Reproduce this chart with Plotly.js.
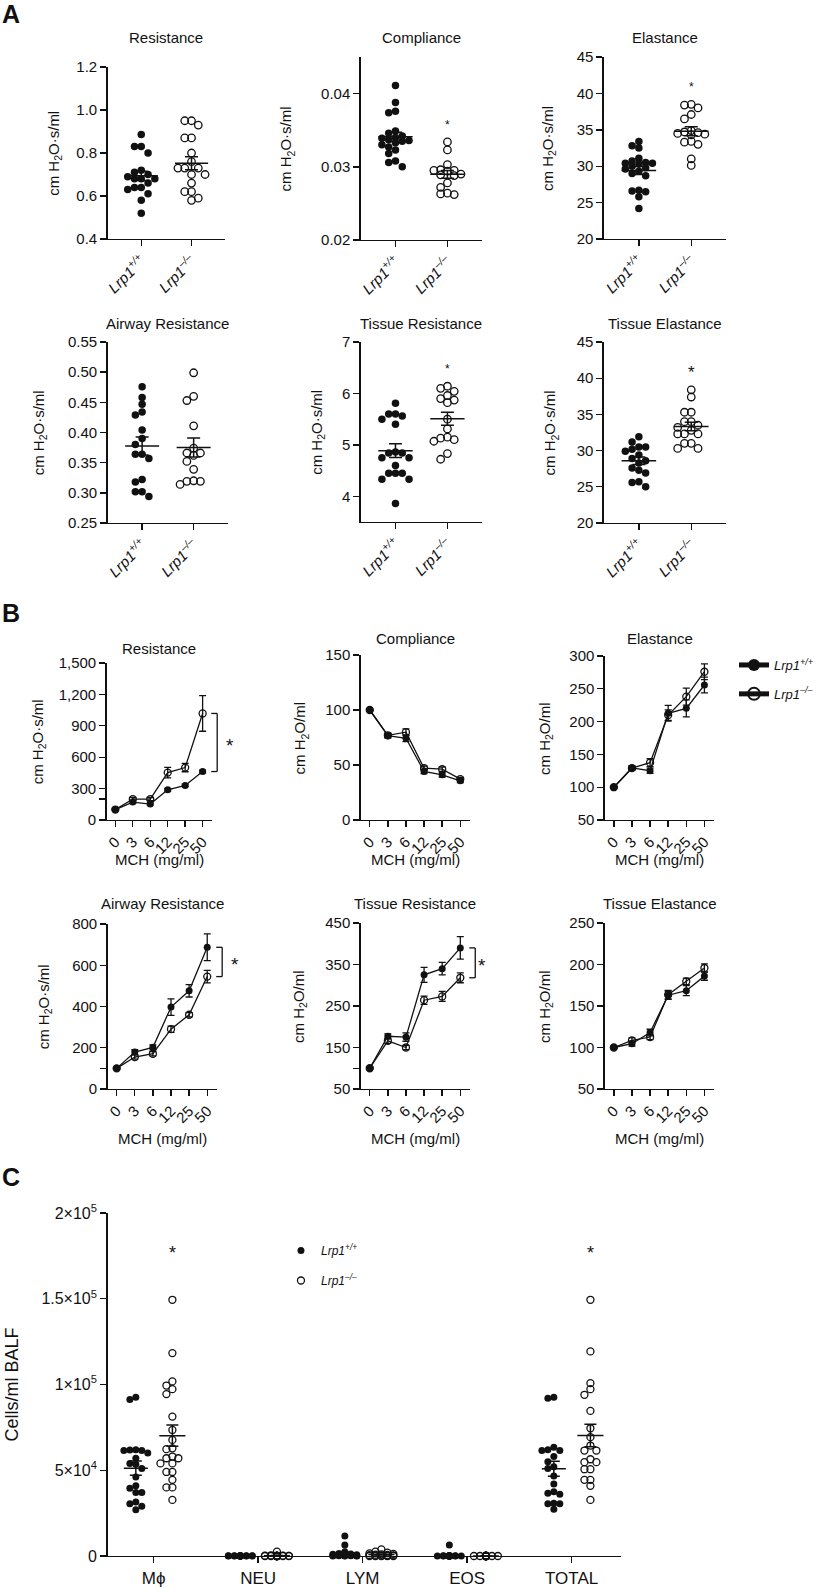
<!DOCTYPE html>
<html><head><meta charset="utf-8">
<script src="https://cdn.plot.ly/plotly-3.0.1.min.js"></script>
<style>html,body{margin:0;padding:0;background:#fff}</style>
</head><body><div id="chart" style="width:819px;height:1592px"></div>
<script>
// ================= DATA =================
const genotypes = ['<i>Lrp1<sup>+/+</sup></i>', '<i>Lrp1<sup>–/–</sup></i>'];

// Panel A (individual mice)
const A_resWT = [0.886, 0.83, 0.83, 0.80, 0.72, 0.71, 0.70, 0.69, 0.68, 0.68, 0.68, 0.66, 0.64, 0.64, 0.63, 0.61, 0.58, 0.52];
const A_resKO = [0.95, 0.95, 0.93, 0.87, 0.87, 0.80, 0.76, 0.73, 0.73, 0.73, 0.70, 0.70, 0.66, 0.62, 0.62, 0.59, 0.58];
const A_compWT = [0.0411, 0.0388, 0.0376, 0.0374, 0.0349, 0.0346, 0.0342, 0.0340, 0.0339, 0.0337, 0.0336, 0.0335, 0.0333, 0.0330, 0.0327, 0.0323, 0.0318, 0.0308, 0.0306, 0.0300];
const A_compKO = [0.0334, 0.0323, 0.0303, 0.0296, 0.0295, 0.0295, 0.0294, 0.0290, 0.0289, 0.0288, 0.0278, 0.0272, 0.0264, 0.0263, 0.0262];
const A_elaWT = [33.4, 32.8, 32.5, 31.1, 30.7, 30.5, 30.4, 30.4, 30.3, 30.0, 29.8, 29.6, 29.3, 29.0, 28.7, 26.7, 26.6, 26.5, 25.8, 24.2];
const A_elaKO = [38.5, 38.4, 38.0, 37.1, 36.5, 34.9, 34.7, 34.6, 34.5, 34.4, 34.3, 33.4, 33.3, 33.0, 31.0, 30.1];
const A_awrWT = [0.476, 0.458, 0.447, 0.434, 0.429, 0.404, 0.390, 0.380, 0.364, 0.364, 0.357, 0.322, 0.318, 0.302, 0.302, 0.294];
const A_awrKO = [0.499, 0.460, 0.453, 0.411, 0.374, 0.366, 0.366, 0.362, 0.352, 0.339, 0.320, 0.319, 0.319, 0.314];
const A_trWT = [5.81, 5.60, 5.60, 5.56, 5.50, 5.40, 4.86, 4.84, 4.84, 4.75, 4.75, 4.60, 4.45, 4.45, 4.45, 4.33, 4.33, 3.86];
const A_trKO = [6.14, 6.10, 6.04, 5.96, 5.90, 5.87, 5.82, 5.50, 5.31, 5.15, 5.13, 5.10, 5.07, 4.83, 4.72];
const A_teWT = [31.9, 31.2, 30.5, 30.5, 30.2, 29.9, 29.4, 28.9, 28.6, 28.3, 27.6, 27.3, 26.9, 25.7, 25.6, 25.0];
const A_teKO = [38.4, 37.4, 35.3, 35.3, 34.0, 34.0, 33.5, 33.2, 32.8, 32.3, 32.3, 32.3, 31.0, 31.0, 30.3, 30.3];

const A_resTicks = [0.4, 0.6, 0.8, 1.0, 1.2];
const A_compTicks = [0.02, 0.03, 0.04];
const A_elaTicks = [20, 25, 30, 35, 40, 45];
const A_awrTicks = [0.25, 0.30, 0.35, 0.40, 0.45, 0.50, 0.55];
const A_trTicks = [4, 5, 6, 7];
const A_teTicks = [20, 25, 30, 35, 40, 45];

// Panel B (MCH dose response, mean ± SEM)
const mchDoses = ['0', '3', '6', '12', '25', '50'];
const B_resWT = [100, 171, 152, 289, 330, 463],   B_resWTe = [4, 12, 10, 12, 12, 14];
const B_resKO = [100, 200, 200, 453, 501, 1018],  B_resKOe = [4, 15, 15, 50, 40, 170];
const B_compWT = [100, 76.7, 74.3, 44.1, 41.1, 35.6], B_compWTe = [0.5, 2, 3, 2, 2, 1.5];
const B_compKO = [100, 77.0, 79.8, 47.1, 46.2, 37.2], B_compKOe = [0.5, 2, 3, 2, 2, 1.5];
const B_elaWT = [100, 129.3, 125.2, 212.6, 220.2, 255.8], B_elaWTe = [1, 3, 4, 12, 13, 12];
const B_elaKO = [100, 129.0, 137.4, 210.0, 238.0, 276.0], B_elaKOe = [1, 3, 6, 8, 13, 12];
const B_awrWT = [100, 179, 202, 397, 476, 687], B_awrWTe = [3, 12, 12, 40, 30, 65];
const B_awrKO = [100, 155, 171, 290, 360, 545], B_awrKOe = [3, 10, 10, 15, 10, 30];
const B_trWT = [100, 177, 175, 325, 340, 390], B_trWTe = [2, 6, 10, 18, 15, 27];
const B_trKO = [100, 166, 150, 264, 273, 318], B_trKOe = [2, 6, 5, 10, 12, 12];
const B_teWT = [100, 104.6, 118, 163, 168.5, 186], B_teWTe = [1, 3, 4, 5, 6, 5];
const B_teKO = [100, 108.6, 112.6, 163.7, 179.7, 195.8], B_teKOe = [1, 3, 3, 5, 4, 5];

const B_resTicks = [0, 200, 300, 600, 900, 1200, 1500], B_resTickText = ['0', '', '300', '600', '900', '1,200', '1,500'];
const B_compTicks = [0, 50, 100, 150];
const B_elaTicks = [50, 100, 150, 200, 250, 300];
const B_awrTicks = [0, 100, 200, 400, 600, 800], B_awrTickText = ['0', '', '200', '400', '600', '800'];
const B_trTicks = [50, 100, 150, 250, 350, 450], B_trTickText = ['50', '', '150', '250', '350', '450'];
const B_teTicks = [50, 100, 150, 200, 250];

// Panel C (cells/ml BALF, in thousands)
const C_cats = ['Mϕ', 'NEU', 'LYM', 'EOS', 'TOTAL'];
const C_macWT = [92.5, 91.2, 62, 61.8, 61.5, 61.5, 60, 57, 54, 53.5, 51, 46, 41, 39.5, 37, 37, 31.5, 30.5, 29, 27];
const C_macKO = [149.4, 118.3, 101.8, 99.4, 97.3, 94.4, 81.3, 73.5, 67.7, 62.8, 62.3, 58, 57, 57, 54, 54, 49, 49, 44.4, 40, 40, 32.7];
const C_neuWT = [0.3, 0.2, 0.2, 0.1, 0.1, 0, 0, 0, 0, 0, 0, 0, 0, 0, 0, 0, 0, 0];
const C_neuKO = [2.5, 0.3, 0.2, 0.2, 0.1, 0, 0, 0, 0, 0, 0, 0, 0, 0, 0, 0, 0, 0];
const C_lymWT = [11.7, 6.4, 2.5, 1.5, 1.2, 1.0, 0.8, 0.6, 0.5, 0.4, 0.3, 0.2, 0.2, 0.1, 0.1, 0, 0, 0];
const C_lymKO = [3.9, 2.5, 2.0, 1.5, 1.2, 1.0, 0.8, 0.6, 0.5, 0.4, 0.3, 0.2, 0.1, 0, 0, 0, 0, 0];
const C_eosWT = [6.4, 0.3, 0.2, 0.1, 0, 0, 0, 0, 0, 0, 0, 0, 0, 0, 0, 0, 0, 0];
const C_eosKO = [0, 0, 0, 0, 0, 0, 0, 0, 0, 0, 0, 0, 0, 0, 0, 0, 0, 0];
const C_totWT = [92.5, 92, 63.4, 62, 61.5, 61.5, 58, 55, 52, 51, 46.7, 42, 37.5, 36.6, 36, 30.8, 30.5, 30.5, 27.2];
const C_totKO = [149.4, 119.3, 100.8, 97.3, 94, 84.6, 74.5, 69.3, 64.4, 61.5, 61.5, 56.4, 54.7, 54.7, 50.6, 50.6, 44.4, 44.4, 40.9, 32.7];
const C_ticks = [0, 50, 100, 150, 200];
const C_tickText = ['0', '5×10<sup>4</sup>', '1×10<sup>5</sup>', '1.5×10<sup>5</sup>', '2×10<sup>5</sup>'];

// ================= BUILD =================
const FONT = 'Liberation Sans, Arial, Helvetica, sans-serif';
const INK = '#111';
const W = 819, H = 1592;
const px = x => x / W, py = y => 1 - y / H;
const mean = a => a.reduce((s, v) => s + v, 0) / a.length;
const sem = a => { const m = mean(a); return Math.sqrt(a.reduce((s, v) => s + (v - m) * (v - m), 0) / (a.length - 1)) / Math.sqrt(a.length); };

const traces = [];
const layout = {
  width: W, height: H, margin: {l: 0, r: 0, t: 0, b: 0},
  paper_bgcolor: '#fff', plot_bgcolor: 'rgba(0,0,0,0)',
  font: {family: FONT, color: INK, size: 15},
  showlegend: true, hovermode: false,
  annotations: [], shapes: []
};
let axN = 0;
function makeAxes(box, xcfg, ycfg, tickSize) {
  axN++;
  const s = axN === 1 ? '' : String(axN);
  const base = {showline: true, linecolor: INK, linewidth: 1.4, ticks: 'outside', ticklen: 6, tickwidth: 1.4,
    tickcolor: INK, showgrid: false, zeroline: false, fixedrange: true,
    tickfont: {family: FONT, size: tickSize, color: INK}};
  layout['xaxis' + s] = Object.assign({}, base, {domain: [px(box[0]), px(box[1])], anchor: 'y' + s}, xcfg);
  layout['yaxis' + s] = Object.assign({}, base, {domain: [py(box[3]), py(box[2])], anchor: 'x' + s}, ycfg);
  return {x: 'x' + s, y: 'y' + s};
}
function note(text, x, y, size, extra) {
  layout.annotations.push(Object.assign({xref: 'paper', yref: 'paper', x: px(x), y: py(y), text: text, showarrow: false,
    xanchor: 'center', yanchor: 'middle', font: {family: FONT, size: size, color: INK}}, extra || {}));
}
// simple beeswarm: pixel offsets
function swarm(vals, d, maxSteps, pxY) {
  const order = vals.map((v, i) => i).sort((a, b) => vals[b] - vals[a]);
  const placed = [], off = new Array(vals.length).fill(0);
  const cands = [0];
  for (let k = 1; k <= maxSteps; k++) cands.push(-k * d, k * d);
  order.forEach(i => {
    const y = vals[i] * pxY;
    let best = 0, bestD = -1;
    for (const c of cands) {
      let md = Infinity;
      for (const p of placed) { const dd = Math.hypot(c - p.x, y - p.y); if (dd < md) md = dd; }
      if (md >= d * 0.95) { best = c; bestD = md; break; }
      if (md > bestD) { bestD = md; best = c; }
    }
    off[i] = best; placed.push({x: best, y: y});
  });
  return off;
}
function dotGroup(ax, vals, center, pxX, pxY, filled, msize, d, halfMean, capW) {
  const off = swarm(vals, d, 2, pxY);
  traces.push({type: 'scatter', mode: 'markers', x: vals.map((v, i) => center + off[i] / pxX), y: vals,
    xaxis: ax.x, yaxis: ax.y, showlegend: false, hoverinfo: 'skip', cliponaxis: false,
    marker: filled ? {symbol: 'circle', size: msize, color: INK} : {symbol: 'circle-open', size: msize, color: INK, line: {width: 1.3}}});
  const m = mean(vals), s = sem(vals);
  traces.push({type: 'scatter', mode: 'lines', x: [center - halfMean, center + halfMean], y: [m, m], xaxis: ax.x, yaxis: ax.y,
    line: {color: INK, width: 1.5}, showlegend: false, hoverinfo: 'skip'});
  traces.push({type: 'scatter', mode: 'markers', x: [center], y: [m], xaxis: ax.x, yaxis: ax.y, showlegend: false, hoverinfo: 'skip',
    marker: {size: 1, color: 'rgba(0,0,0,0)'}, error_y: {type: 'data', array: [s], visible: true, color: INK, thickness: 1.5, width: capW}});
}

// ---------- Panel A ----------
const YT1 = 'cm H<sub>2</sub>O·s/ml', YT2 = 'cm H<sub>2</sub>O/ml';
const A_cfg = [
  {title: 'Resistance', wt: A_resWT, ko: A_resKO, box: [108, 226, 67, 239], yr: [0.4, 1.2], tv: A_resTicks, dec: 1, tY: 37, ytX: 55, star: 0},
  {title: 'Compliance', wt: A_compWT, ko: A_compKO, box: [362, 484, 57, 240], yr: [0.02, 0.045], tv: A_compTicks, dec: 2, tY: 37, ytX: 288, star: 12},
  {title: 'Elastance', wt: A_elaWT, ko: A_elaKO, box: [606, 729, 57, 239], yr: [20, 45], tv: A_elaTicks, dec: 0, tY: 37, ytX: 550, star: 12},
  {title: 'Airway Resistance', wt: A_awrWT, ko: A_awrKO, box: [108, 229, 342, 523], yr: [0.25, 0.55], tv: A_awrTicks, dec: 2, tY: 324, ytX: 40, star: 0},
  {title: 'Tissue Resistance', wt: A_trWT, ko: A_trKO, box: [362, 484, 342, 522], yr: [3.5, 7], tv: A_trTicks, dec: 0, tY: 324, ytX: 318, star: 12},
  {title: 'Tissue Elastance', wt: A_teWT, ko: A_teKO, box: [606, 729, 342, 523], yr: [20, 45], tv: A_teTicks, dec: 0, tY: 324, ytX: 553, star: 17}
];
A_cfg.forEach(c => {
  const xr = [-0.67, 1.67];
  const ax = makeAxes(c.box,
    {range: xr, tickvals: [0, 1], ticktext: genotypes, tickangle: -45, tickfont: {family: FONT, size: 15, color: INK}},
    {range: c.yr, tickvals: c.tv, ticktext: c.tv.map(v => v.toFixed(c.dec))}, 15);
  const pxX = (c.box[1] - c.box[0]) / (xr[1] - xr[0]);
  const pxY = (c.box[3] - c.box[2]) / (c.yr[1] - c.yr[0]);
  dotGroup(ax, c.wt, 0, pxX, pxY, true, 7.5, 6.8, 0.33, 6.5);
  dotGroup(ax, c.ko, 1, pxX, pxY, false, 7.5, 6.8, 0.33, 6.5);
  note(c.title, (c.box[0] + c.box[1]) / 2, c.tY, 15);
  note(YT1, c.ytX, (c.box[2] + c.box[3]) / 2, 15, {textangle: -90});
  if (c.star) layout.annotations.push({xref: ax.x, yref: ax.y, x: 1, y: Math.max(...c.ko), yshift: 17, text: '*', showarrow: false,
    font: {family: FONT, size: c.star, color: INK}});
});

// ---------- Panel B ----------
// legend entries for panel B (drawn first so the legend lists +/+ then -/-)
traces.push({type: 'scatter', mode: 'lines+markers', x: [null], y: [null], name: genotypes[0], legend: 'legend', legendgroup: 'bwt',
  line: {color: INK, width: 1.3}, marker: {symbol: 'circle', size: 13, color: INK}, hoverinfo: 'skip'});
traces.push({type: 'scatter', mode: 'lines+markers', x: [null], y: [null], name: genotypes[1], legend: 'legend', legendgroup: 'bko',
  line: {color: INK, width: 1.3}, marker: {symbol: 'circle-open', size: 13, color: INK, line: {width: 1.3}}, hoverinfo: 'skip'});

const B_cfg = [
  {title: 'Resistance', wt: B_resWT, wte: B_resWTe, ko: B_resKO, koe: B_resKOe, box: [107, 213, 663, 820], yr: [0, 1500], tv: B_resTicks, tt: B_resTickText, tY: 648, ytX: 39, yt: YT1, mY: 860, br: 1},
  {title: 'Compliance', wt: B_compWT, wte: B_compWTe, ko: B_compKO, koe: B_compKOe, box: [362, 472, 655, 820], yr: [0, 150], tv: B_compTicks, tY: 638, ytX: 302, yt: YT2, mY: 860},
  {title: 'Elastance', wt: B_elaWT, wte: B_elaWTe, ko: B_elaKO, koe: B_elaKOe, box: [607, 717, 656, 820], yr: [50, 300], tv: B_elaTicks, tY: 638, ytX: 547, yt: YT2, mY: 860},
  {title: 'Airway Resistance', wt: B_awrWT, wte: B_awrWTe, ko: B_awrKO, koe: B_awrKOe, box: [108, 218, 924, 1089], yr: [0, 800], tv: B_awrTicks, tt: B_awrTickText, tY: 903, ytX: 45, yt: YT1, mY: 1138, br: 1},
  {title: 'Tissue Resistance', wt: B_trWT, wte: B_trWTe, ko: B_trKO, koe: B_trKOe, box: [362, 472, 923, 1089], yr: [50, 450], tv: B_trTicks, tt: B_trTickText, tY: 903, ytX: 300, yt: YT2, mY: 1138, br: 1},
  {title: 'Tissue Elastance', wt: B_teWT, wte: B_teWTe, ko: B_teKO, koe: B_teKOe, box: [607, 717, 923, 1089], yr: [50, 250], tv: B_teTicks, tY: 903, ytX: 547, yt: YT2, mY: 1138}
];
const doseIdx = mchDoses.map((d, i) => i);
B_cfg.forEach(c => {
  const ax = makeAxes(c.box,
    {range: [-0.5, 5.55], tickvals: doseIdx, ticktext: mchDoses, tickangle: -45},
    {range: c.yr, tickvals: c.tv, ticktext: c.tt || c.tv.map(String)}, 15);
  const common = {type: 'scatter', mode: 'lines+markers', x: doseIdx, xaxis: ax.x, yaxis: ax.y, hoverinfo: 'skip', cliponaxis: false,
    line: {color: INK, width: 1.3}, showlegend: false};
  traces.push(Object.assign({}, common, {y: c.ko, name: genotypes[1],
    marker: {symbol: 'circle-open', size: 7, color: INK, line: {width: 1.3}},
    error_y: {type: 'data', array: c.koe, visible: true, color: INK, thickness: 1.3, width: 3.5}}));
  traces.push(Object.assign({}, common, {y: c.wt, name: genotypes[0],
    marker: {symbol: 'circle', size: 7, color: INK},
    error_y: {type: 'data', array: c.wte, visible: true, color: INK, thickness: 1.3, width: 3.5}}));
  note(c.title, (c.box[0] + c.box[1]) / 2, c.tY, 15);
  note(c.yt, c.ytX, (c.box[2] + c.box[3]) / 2, 15, {textangle: -90});
  note('MCH (mg/ml)', (c.box[0] + c.box[1]) / 2, c.mY, 15);
  if (c.br) {
    const last = mchDoses.length - 1;
    const top = Math.max(c.ko[last], c.wt[last]), bot = Math.min(c.ko[last], c.wt[last]);
    const xa = px(c.box[1] - 1), xb = px(c.box[1] + 5);
    const ln = {type: 'line', xref: 'paper', yref: ax.y, line: {color: INK, width: 1.3}};
    layout.shapes.push(Object.assign({}, ln, {x0: xa, x1: xb, y0: top, y1: top}));
    layout.shapes.push(Object.assign({}, ln, {x0: xb, x1: xb, y0: top, y1: bot}));
    layout.shapes.push(Object.assign({}, ln, {x0: xa, x1: xb, y0: bot, y1: bot}));
    layout.annotations.push({xref: 'paper', yref: ax.y, x: px(c.box[1] + 12), y: (top + bot) / 2, yshift: -3, text: '*', showarrow: false,
      font: {family: FONT, size: 19, color: INK}});
  }
});

// ---------- Panel C ----------
const cBox = [108, 623, 1213, 1556];
const cxr = [-0.44, 4.47], cyr = [0, 200];
const axC = makeAxes(cBox,
  {range: cxr, tickvals: C_cats.map((c, i) => i), ticktext: C_cats, tickfont: {family: FONT, size: 17, color: INK}},
  {range: cyr, tickvals: C_ticks, ticktext: C_tickText}, 16);
const cpxX = (cBox[1] - cBox[0]) / (cxr[1] - cxr[0]);
const cpxY = (cBox[3] - cBox[2]) / (cyr[1] - cyr[0]);
const C_wt = [C_macWT, C_neuWT, C_lymWT, C_eosWT, C_totWT];
const C_ko = [C_macKO, C_neuKO, C_lymKO, C_eosKO, C_totKO];
// legend entries for panel C
traces.push({type: 'scatter', mode: 'markers', x: [null], y: [null], xaxis: axC.x, yaxis: axC.y, name: genotypes[0], legend: 'legend2', legendgroup: 'cwt',
  marker: {symbol: 'circle', size: 7, color: INK}, hoverinfo: 'skip'});
traces.push({type: 'scatter', mode: 'markers', x: [null], y: [null], xaxis: axC.x, yaxis: axC.y, name: genotypes[1], legend: 'legend2', legendgroup: 'cko',
  marker: {symbol: 'circle-open', size: 7, color: INK, line: {width: 1.3}}, hoverinfo: 'skip'});
C_cats.forEach((cat, i) => {
  dotGroup(axC, C_wt[i], i - 0.17, cpxX, cpxY, true, 7, 6, 0.115, 6);
  dotGroup(axC, C_ko[i], i + 0.18, cpxX, cpxY, false, 7, 6, 0.125, 6);
});
[0, 4].forEach(i => layout.annotations.push({xref: axC.x, yref: axC.y, x: i + 0.18, y: Math.max(...C_ko[i]), yshift: 47, text: '*',
  showarrow: false, font: {family: FONT, size: 18, color: INK}}));
note('Cells/ml BALF', 12, (cBox[2] + cBox[3]) / 2, 18, {textangle: -90});

layout.legend = {x: px(737), y: py(650), xanchor: 'left', yanchor: 'top', font: {family: FONT, size: 13, color: INK},
  itemsizing: 'constant', tracegroupgap: 9, bgcolor: 'rgba(0,0,0,0)', traceorder: 'grouped'};
layout.legend2 = {x: px(282), y: py(1236), xanchor: 'left', yanchor: 'top', font: {family: FONT, size: 12, color: INK},
  itemsizing: 'trace', tracegroupgap: 11, bgcolor: 'rgba(0,0,0,0)', traceorder: 'grouped'};

// panel letters
note('<b>A</b>', 11, 14, 25);
note('<b>B</b>', 11, 613, 25);
note('<b>C</b>', 11, 1177, 25);

Plotly.newPlot('chart', traces, layout, {staticPlot: true, displayModeBar: false});
</script>
</body></html>
